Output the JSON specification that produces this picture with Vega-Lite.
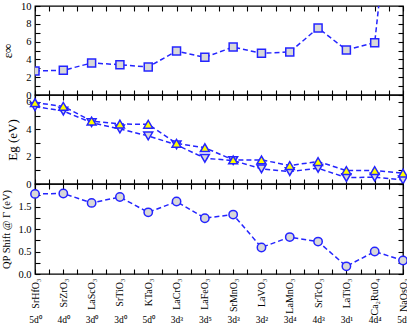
{
  "$schema": "https://vega.github.io/schema/vega-lite/v6.json",
  "padding": {"left": 0, "top": 0, "right": 3, "bottom": 0},
  "background": "white",
  "spacing": 0,
  "bounds": "flush",
  "datasets": {
    "chem": [
      {"idx": 0, "material": "SrHfO₃", "config": "5d⁰", "eps": 2.7, "egUp": 5.94, "egDown": 5.65, "qp": 1.78},
      {"idx": 1, "material": "SrZrO₃", "config": "4d⁰", "eps": 2.77, "egUp": 5.67, "egDown": 5.33, "qp": 1.79},
      {"idx": 2, "material": "LaScO₃", "config": "3d⁰", "eps": 3.6, "egUp": 4.6, "egDown": 4.48, "qp": 1.58},
      {"idx": 3, "material": "SrTiO₃", "config": "3d⁰", "eps": 3.4, "egUp": 4.38, "egDown": 4.02, "qp": 1.71},
      {"idx": 4, "material": "KTaO₃", "config": "5d⁰", "eps": 3.15, "egUp": 4.36, "egDown": 3.51, "qp": 1.37},
      {"idx": 5, "material": "LaCrO₃", "config": "3d³", "eps": 4.94, "egUp": 2.97, "egDown": 2.86, "qp": 1.61},
      {"idx": 6, "material": "LaFeO₃", "config": "3d⁵", "eps": 4.23, "egUp": 2.65, "egDown": 1.88, "qp": 1.24},
      {"idx": 7, "material": "SrMnO₃", "config": "3d³", "eps": 5.39, "egUp": 1.76, "egDown": 1.71, "qp": 1.32},
      {"idx": 8, "material": "LaVO₃", "config": "3d²", "eps": 4.68, "egUp": 1.76, "egDown": 1.11, "qp": 0.59},
      {"idx": 9, "material": "LaMnO₃", "config": "3d⁴", "eps": 4.83, "egUp": 1.35, "egDown": 0.91, "qp": 0.82},
      {"idx": 10, "material": "SrTcO₃", "config": "4d³", "eps": 7.53, "egUp": 1.64, "egDown": 1.15, "qp": 0.72},
      {"idx": 11, "material": "LaTiO₃", "config": "3d¹", "eps": 5.06, "egUp": 0.98, "egDown": 0.47, "qp": 0.17},
      {"idx": 12, "material": "Ca₂RuO₄", "config": "4d⁴", "eps": 5.88, "egUp": 0.98, "egDown": 0.5, "qp": 0.5},
      {"idx": 13, "material": "NaOsO₃", "config": "5d³", "eps": 35, "egUp": 0.79, "egDown": 0.3, "qp": 0.3}
    ]
  },
  "config": {
    "font": "Liberation Serif",
    "view": {"stroke": "black", "strokeWidth": 1.3, "fill": null},
    "axis": {
      "domain": false,
      "grid": false,
      "ticks": true,
      "zindex": 1,
      "offset": -5,
      "tickSize": 5,
      "tickColor": "#000000",
      "tickWidth": 1.1,
      "labelColor": "black",
      "labelFont": "Liberation Serif",
      "labelFontSize": 10.5,
      "titleFont": "Liberation Serif",
      "titleFontWeight": "normal",
      "titleColor": "black",
      "labelOverlap": false,
      "labelFlush": false
    }
  },
  "vconcat": [
    {
      "width": 368,
      "height": 89,
      "data": {"name": "chem"},
      "layer": [
        {
          "mark": {"type": "line", "color": "#2424ff", "strokeDash": [5, 3], "strokeWidth": 1.5, "clip": true},
          "encoding": {
            "x": {"field": "idx", "type": "quantitative", "scale": {"domain": [0, 13], "nice": false},
              "axis": {"orient": "bottom", "labels": false, "title": null,
                "values": [0,0.5,1,1.5,2,2.5,3,3.5,4,4.5,5,5.5,6,6.5,7,7.5,8,8.5,9,9.5,10,10.5,11,11.5,12,12.5,13]}},
            "y": {"field": "eps", "type": "quantitative", "scale": {"domain": [0, 10], "nice": false},
              "axis": {"orient": "left", "title": "ε∞", "titleFontSize": 13, "titlePadding": 6,
                "values": [0,1,2,3,4,5,6,7,8,9,10],
                "labelExpr": "datum.value % 2 === 0 ? datum.label : ''",
                "labelPadding": 4}}
          }
        },
        {
          "mark": {"type": "point", "shape": "square", "filled": true, "fill": "#d8d8d8", "stroke": "#2424ff", "strokeWidth": 1.5, "size": 64, "opacity": 1, "clip": true},
          "encoding": {
            "x": {"field": "idx", "type": "quantitative",
              "axis": {"orient": "top", "labels": false, "title": null,
                "values": [0,0.5,1,1.5,2,2.5,3,3.5,4,4.5,5,5.5,6,6.5,7,7.5,8,8.5,9,9.5,10,10.5,11,11.5,12,12.5,13]}},
            "y": {"field": "eps", "type": "quantitative",
              "axis": {"orient": "right", "labels": false, "title": null,
                "values": [0,1,2,3,4,5,6,7,8,9,10]}}
          }
        }
      ],
      "resolve": {"axis": {"x": "independent", "y": "independent"}}
    },
    {
      "width": 368,
      "height": 89,
      "data": {"name": "chem"},
      "layer": [
        {
          "mark": {"type": "line", "color": "#2424ff", "strokeDash": [5, 3], "strokeWidth": 1.5},
          "encoding": {
            "x": {"field": "idx", "type": "quantitative", "scale": {"domain": [0, 13], "nice": false},
              "axis": {"orient": "bottom", "labels": false, "title": null,
                "values": [0,0.5,1,1.5,2,2.5,3,3.5,4,4.5,5,5.5,6,6.5,7,7.5,8,8.5,9,9.5,10,10.5,11,11.5,12,12.5,13]}},
            "y": {"field": "egUp", "type": "quantitative", "scale": {"domain": [0, 6.5], "nice": false},
              "axis": {"orient": "left", "title": "Eg (eV)", "titleFontSize": 13, "titlePadding": 6,
                "values": [0,1,2,3,4,5,6],
                "labelExpr": "datum.value % 2 === 0 ? datum.label : ''",
                "labelPadding": 4}}
          }
        },
        {
          "mark": {"type": "line", "color": "#2424ff", "strokeDash": [5, 3], "strokeWidth": 1.5},
          "encoding": {
            "x": {"field": "idx", "type": "quantitative", "axis": null},
            "y": {"field": "egDown", "type": "quantitative", "axis": null}
          }
        },
        {
          "mark": {"type": "point", "shape": "triangle-down", "filled": true, "fill": "#d8d8d8", "stroke": "#2424ff", "strokeWidth": 1.5, "size": 80, "opacity": 1},
          "encoding": {
            "x": {"field": "idx", "type": "quantitative", "axis": null},
            "y": {"field": "egDown", "type": "quantitative", "axis": null}
          }
        },
        {
          "mark": {"type": "point", "shape": "triangle-up", "filled": true, "fill": "#ffff00", "stroke": "#2424ff", "strokeWidth": 1.5, "size": 80, "opacity": 1},
          "encoding": {
            "x": {"field": "idx", "type": "quantitative",
              "axis": {"orient": "top", "labels": false, "title": null,
                "values": [0,0.5,1,1.5,2,2.5,3,3.5,4,4.5,5,5.5,6,6.5,7,7.5,8,8.5,9,9.5,10,10.5,11,11.5,12,12.5,13]}},
            "y": {"field": "egUp", "type": "quantitative",
              "axis": {"orient": "right", "labels": false, "title": null,
                "values": [0,1,2,3,4,5,6]}}
          }
        }
      ],
      "resolve": {"axis": {"x": "independent", "y": "independent"}}
    },
    {
      "width": 368,
      "height": 90,
      "data": {"name": "chem"},
      "layer": [
        {
          "mark": {"type": "line", "color": "#2424ff", "strokeDash": [5, 3], "strokeWidth": 1.5},
          "encoding": {
            "x": {"field": "idx", "type": "quantitative", "scale": {"domain": [0, 13], "nice": false},
              "axis": {"orient": "bottom", "title": null,
                "values": [0,0.5,1,1.5,2,2.5,3,3.5,4,4.5,5,5.5,6,6.5,7,7.5,8,8.5,9,9.5,10,10.5,11,11.5,12,12.5,13],
                "labelExpr": "datum.value % 1 === 0 ? data('chem')[datum.value].material : ''",
                "labelAngle": -90, "labelAlign": "right", "labelBaseline": "middle", "labelPadding": 4, "labelFontSize": 10}},
            "y": {"field": "qp", "type": "quantitative", "scale": {"domain": [0, 2], "nice": false},
              "axis": {"orient": "left", "title": "QP Shift @ Γ (eV)", "titleFontSize": 10.5, "titlePadding": 6,
                "values": [0,0.25,0.5,0.75,1,1.25,1.5,1.75,2],
                "labelExpr": "datum.value % 0.5 === 0 && datum.value < 2 ? datum.label : ''",
                "labelPadding": 4}}
          }
        },
        {
          "mark": {"type": "point", "shape": "circle", "filled": true, "fill": "#d8d8d8", "stroke": "#2424ff", "strokeWidth": 1.5, "size": 70, "opacity": 1},
          "encoding": {
            "x": {"field": "idx", "type": "quantitative",
              "axis": {"orient": "top", "labels": false, "title": null,
                "values": [0,0.5,1,1.5,2,2.5,3,3.5,4,4.5,5,5.5,6,6.5,7,7.5,8,8.5,9,9.5,10,10.5,11,11.5,12,12.5,13]}},
            "y": {"field": "qp", "type": "quantitative",
              "axis": {"orient": "right", "labels": false, "title": null,
                "values": [0,0.25,0.5,0.75,1,1.25,1.5,1.75,2]}}
          }
        },
        {
          "mark": {"type": "point", "opacity": 0},
          "encoding": {
            "x": {"field": "idx", "type": "quantitative",
              "axis": {"orient": "bottom", "title": null, "ticks": false, "offset": 0,
                "values": [0,1,2,3,4,5,6,7,8,9,10,11,12,13],
                "labelExpr": "data('chem')[datum.value].config",
                "labelAngle": 0, "labelPadding": 40, "labelFontSize": 9.5}},
            "y": {"field": "qp", "type": "quantitative", "axis": null}
          }
        }
      ],
      "resolve": {"axis": {"x": "independent", "y": "independent"}}
    }
  ]
}
